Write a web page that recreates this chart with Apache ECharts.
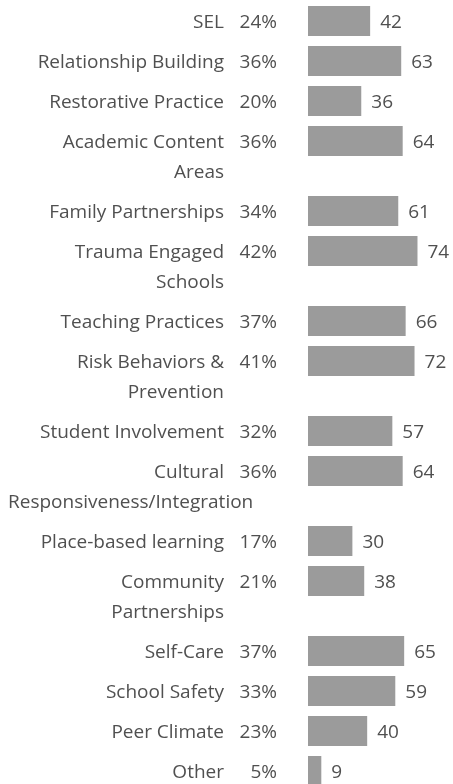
<!DOCTYPE html>
<html>
<head>
<meta charset="utf-8">
<script src="https://cdn.jsdelivr.net/npm/echarts@6/dist/echarts.min.js"></script>
<style>
  html, body { margin: 0; padding: 0; background: #fff; }
  #chart { width: 453px; height: 784px; }
</style>
</head>
<body>
<div id="chart"></div>
<script>
// topics, top to bottom
var categories = [
  'SEL',
  'Relationship Building',
  'Restorative Practice',
  'Academic Content\nAreas',
  'Family Partnerships',
  'Trauma Engaged\nSchools',
  'Teaching Practices',
  'Risk Behaviors &\nPrevention',
  'Student Involvement',
  'Cultural\nResponsiveness/Integration',
  'Place-based learning',
  'Community\nPartnerships',
  'Self-Care',
  'School Safety',
  'Peer Climate',
  'Other'
];
var counts = [42, 63, 36, 64, 61, 74, 66, 72, 57, 64, 30, 38, 65, 59, 40, 9];
var percents = ['24%', '36%', '20%', '36%', '34%', '42%', '37%', '41%', '32%', '36%', '17%', '21%', '37%', '33%', '23%', '5%'];

var textColor = '#505050';
var barColor = '#9b9b9b';
var fontStr = '19px "Open Sans", sans-serif';
var rowHeight = 40;   // one-line row
var lineHeight = 30;  // extra per wrapped line
var barHeight = 30;
var nameBox = 216;    // width of the label column
var textDy = 2;       // nudge text down so caps sit on the bar centre

var measureCtx = document.createElement('canvas').getContext('2d');
measureCtx.font = fontStr;

// y centre of each row, grows with the number of label lines
var rows = [];
var y = 21;
categories.forEach(function (name, i) {
  rows.push([counts[i], y, i]);
  var lines = name.split('\n').length;
  y += rowHeight + lineHeight * (lines - 1);
});

var chart = echarts.init(document.getElementById('chart'));

chart.setOption({
  animation: false,
  grid: { left: 308, right: 0, top: 0, bottom: 0 },
  xAxis: { type: 'value', min: 0, max: 98, show: false },
  yAxis: { type: 'value', min: 0, max: 784, inverse: true, show: false },
  series: [{
    type: 'custom',
    data: rows,
    renderItem: function (params, api) {
      var v = api.value(0);
      var yc = api.value(1);
      var i = api.value(2);
      var start = api.coord([0, yc]);
      var end = api.coord([v, yc]);
      var nameRight = start[0] - 84;
      var children = [
        {
          type: 'rect',
          shape: { x: start[0], y: start[1] - barHeight / 2, width: end[0] - start[0], height: barHeight },
          style: { fill: barColor }
        },
        {
          type: 'text',
          style: {
            text: String(v), x: end[0] + 10, y: end[1] + textDy,
            align: 'left', verticalAlign: 'middle', font: fontStr, fill: textColor
          }
        },
        {
          type: 'text',
          style: {
            text: percents[i], x: start[0] - 31, y: start[1] + textDy,
            align: 'right', verticalAlign: 'middle', font: fontStr, fill: textColor
          }
        }
      ];
      // label lines: right aligned, too-long lines spill out to the right
      categories[i].split('\n').forEach(function (line, k) {
        var w = measureCtx.measureText(line).width;
        var tooLong = w > nameBox;
        children.push({
          type: 'text',
          style: {
            text: line,
            x: tooLong ? nameRight - nameBox : nameRight,
            y: start[1] + k * lineHeight + textDy,
            align: tooLong ? 'left' : 'right',
            verticalAlign: 'middle', font: fontStr, fill: textColor
          }
        });
      });
      return { type: 'group', children: children };
    }
  }]
});
</script>
</body>
</html>
